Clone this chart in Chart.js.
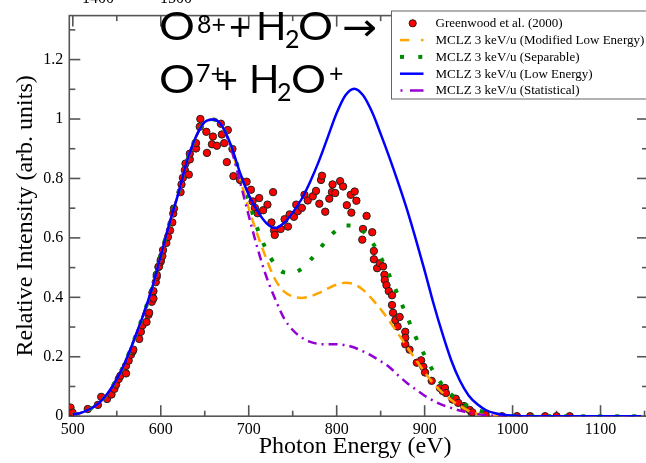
<!DOCTYPE html>
<html><head><meta charset="utf-8">
<script src="https://cdn.jsdelivr.net/npm/chart.js@4"></script>
<style>html,body{margin:0;padding:0;background:#fff}#wrap{width:646px;height:463px;position:relative}</style>
</head><body><div id="wrap"><canvas id="c"></canvas></div>
<script>
// ---- data ----
const curveEnergy = [500,510,520,530,540,550,560,570,580,590,600,610,620,630,640,650,660,670,680,690,700,710,720,730,740,750,760,770,780,790,800,810,820,830,840,850,860,870,880,890,900,910,920,930,940,950,960,970,980,990,1000,1010,1020,1030,1040,1050,1060,1070,1080,1090,1100,1110,1120,1130,1140,1150,1160];
const lowEnergy = [0.005,0.012,0.025,0.045,0.078,0.125,0.185,0.26,0.34,0.43,
 0.54,0.65,0.75,0.86,0.94,0.99,0.998,0.975,0.91,0.82,
 0.745,0.69,0.65,0.633,0.65,0.685,0.73,0.79,0.86,0.94,
 1.02,1.08,1.102,1.08,1.025,0.95,0.87,0.785,0.695,0.595,
 0.49,0.38,0.28,0.19,0.12,0.07,0.04,0.02,0.01,0.005,
 0.002,0,0,0,0,0,0,0,0,0,0,0,0,0,0,0,0];
const modifiedLowEnergy = [0.005,0.012,0.025,0.045,0.078,0.125,0.185,0.26,0.34,0.43,
 0.54,0.65,0.75,0.86,0.94,0.99,0.998,0.975,0.905,0.80,
 0.70,0.61,0.53,0.46,0.42,0.403,0.398,0.403,0.415,0.43,
 0.443,0.449,0.444,0.425,0.395,0.36,0.32,0.277,0.233,0.19,
 0.148,0.11,0.08,0.055,0.035,0.018,0.008,0.003,0.001,0,
 0,0,0,0,0,0,0,0,0,0,0,0,0,0,0,0,0];
const separable = [0.005,0.012,0.025,0.045,0.078,0.125,0.185,0.26,0.34,0.43,
 0.54,0.65,0.75,0.86,0.94,0.99,0.998,0.975,0.91,0.815,
 0.725,0.63,0.56,0.51,0.484,0.482,0.496,0.525,0.56,0.598,
 0.626,0.642,0.641,0.622,0.587,0.535,0.473,0.405,0.335,0.265,
 0.205,0.15,0.106,0.074,0.05,0.033,0.02,0.012,0.006,0.003,
 0,0,0,0,0,0,0,0,0,0,0,0,0,0,0,0,0];
const statistical = [0.005,0.012,0.025,0.045,0.078,0.125,0.185,0.26,0.34,0.43,
 0.54,0.65,0.75,0.86,0.94,0.99,0.998,0.975,0.90,0.79,
 0.675,0.565,0.47,0.395,0.33,0.29,0.265,0.25,0.243,0.242,
 0.242,0.239,0.231,0.218,0.203,0.185,0.165,0.137,0.112,0.09,
 0.069,0.052,0.038,0.028,0.019,0.012,0.007,0.003,0.001,0,
 0,0,0,0,0,0,0,0,0,0,0,0,0,0,0,0,0];
const greenwoodEnergy = [497.4,499.7,517,528.5,532.3,538.9,544,547.3,549.2,552.2,554.1,560.5,560.5,563.5,566.1,568,568.8,575.5,577.4,579.3,583.8,586,586.8,589.8,590.5,590.6,591.7,591.7,594.3,595.4,595.4,597.3,598.1,599.9,600,601.8,602.6,606.3,608.2,610.5,613.1,614.2,615,622.5,623.6,625.1,627.4,628.1,631.9,633,633,640.1,640.1,644.3,645,651.8,652.5,658.2,659.3,663.8,668.3,669.4,672.1,675.1,676.2,681.5,682.6,690.1,697.6,702.5,704.4,707,710,711.9,716.4,721.3,725.8,727.7,728.8,729.6,736.3,740.8,744.6,746.5,751.4,754,755.9,760.4,763.4,767.1,772.8,776.5,780.3,782.2,783.3,787,791.6,794.6,795.3,798.3,803.9,807.3,811.5,816,816.7,820.5,822.4,829.1,829.9,834,840.4,842.3,842.3,846,849,852.8,854.3,854.7,856.6,859.2,862.9,862.9,864.1,866.7,869.3,871.6,878,878,878,882.9,891.1,896,898.6,900.5,908,917.4,920.5,923.1,924.2,931.7,935.4,938.1,944.8,945.6,951.2,954.2,969.3,988,1005,1020,1037,1050,1065];
const greenwoodIntensity = [0.029,0.012,0.024,0.038,0.065,0.058,0.073,0.092,0.106,0.125,0.136,0.144,0.169,0.187,0.207,0.218,0.224,0.26,0.284,0.306,0.317,0.341,0.348,0.385,0.416,0.400,0.396,0.421,0.451,0.469,0.476,0.502,0.504,0.52,0.526,0.539,0.559,0.583,0.603,0.625,0.652,0.682,0.699,0.754,0.78,0.802,0.828,0.85,0.813,0.864,0.883,0.901,0.919,0.974,1.0,0.957,0.886,0.915,0.941,0.91,0.984,0.948,0.919,0.855,0.963,0.899,0.808,0.795,0.789,0.762,0.723,0.701,0.683,0.734,0.693,0.712,0.652,0.754,0.625,0.61,0.63,0.663,0.638,0.679,0.671,0.712,0.69,0.701,0.745,0.726,0.74,0.758,0.715,0.795,0.809,0.688,0.732,0.754,0.78,0.751,0.791,0.773,0.71,0.745,0.685,0.756,0.725,0.594,0.63,0.674,0.619,0.556,0.528,0.498,0.515,0.504,0.476,0.458,0.441,0.421,0.407,0.374,0.348,0.323,0.302,0.334,0.284,0.264,0.242,0.224,0.18,0.188,0.166,0.147,0.119,0.095,0.085,0.095,0.078,0.056,0.059,0.045,0.034,0.029,0.021,0.013,0.006,0,0,0,0,0,0];
const xMajorTicks = [500,600,700,800,900,1000,1100];
const xMinorTicks = [550,650,750,850,950,1050,1150];
const yMajorTicks = [0,0.2,0.4,0.6,0.8,1,1.2];
const yMinorTicks = [0.1,0.3,0.5,0.7,0.9,1.1,1.3];
const xFrameMax = 1154; // right frame of the plot lies just outside the picture
const seriesNames = ['Greenwood et al. (2000)','MCLZ 3 keV/u (Modified Low Energy)','MCLZ 3 keV/u (Separable)','MCLZ 3 keV/u (Low Energy)','MCLZ 3 keV/u (Statistical)'];

const toXY = (xs, ys) => xs.map((x, i) => ({x, y: ys[i]}));
const SERIF = '"Liberation Serif","Times New Roman",serif';

const framePlugin = {
  id: 'frame',
  beforeDatasetsDraw(chart) {
    const {ctx, chartArea: a, scales: {x, y}} = chart;
    const R = x.getPixelForValue(xFrameMax);
    ctx.save();
    ctx.strokeStyle = '#555';
    ctx.lineWidth = 1.6;
    ctx.strokeRect(a.left, a.top, R - a.left, a.bottom - a.top);
    const seg = (x1, y1, x2, y2) => { ctx.beginPath(); ctx.moveTo(x1, y1); ctx.lineTo(x2, y2); ctx.stroke(); };
    xMajorTicks.forEach(v => { const p = x.getPixelForValue(v); seg(p, a.bottom, p, a.bottom - 11); seg(p, a.top, p, a.top + 11); });
    xMinorTicks.forEach(v => { const p = x.getPixelForValue(v); seg(p, a.bottom, p, a.bottom - 5.5); seg(p, a.top, p, a.top + 5.5); });
    yMajorTicks.forEach(v => { const p = y.getPixelForValue(v); seg(a.left, p, a.left + 11, p); seg(R, p, R - 11, p); });
    yMinorTicks.forEach(v => { const p = y.getPixelForValue(v); seg(a.left, p, a.left + 6, p); seg(R, p, R - 6, p); });
    ctx.restore();
  }
};

const overlayPlugin = {
  id: 'overlay',
  afterDraw(chart) {
    const ctx = chart.ctx;
    ctx.save();
    // partially visible labels of the panel above
    ctx.fillStyle = '#000';
    ctx.font = '16px ' + SERIF;
    ctx.textAlign = 'center';
    ctx.textBaseline = 'alphabetic';
    ctx.fillText('1400', 98, 3);
    ctx.fillText('1500', 176, 3);
    // reaction text
    ctx.textAlign = 'left';
    const FAM = 'Lato, "Open Sans", "DejaVu Sans", sans-serif';
    const big = '38px ' + FAM;
    const small = '25px ' + FAM;
    const put = (t, x, y, f, sx) => { ctx.save(); ctx.font = f; ctx.translate(x, y); ctx.scale(sx || 1, 1); ctx.fillText(t, 0, 0); ctx.restore(); };
    put('O', 159, 40, big, 1.18); put('8+', 197, 33, small); put('+', 229, 40, big);
    put('H', 256, 40, big, 1.05); put('2', 285, 48, small); put('O', 298, 40, big, 1.15);
    put('\u2192', 342, 40, '38px "DejaVu Sans", sans-serif', 1.1);
    put('O', 159, 93, big, 1.18); put('7+', 196, 82, small); put('+', 216, 93, big);
    put('H', 249, 93, big, 1.05); put('2', 277, 101, small); put('O', 291, 93, big, 1.15);
    put('+', 329, 82, small);
    // legend
    const L = 391.5, T = 11, B = 99;
    ctx.fillStyle = '#fff';
    ctx.fillRect(L, T, 660 - L, B - T);
    ctx.strokeStyle = '#666'; ctx.lineWidth = 1;
    ctx.strokeRect(L, T, 660 - L, B - T);
    const rows = [23.3, 40.1, 56.9, 73.7, 90.5];
    ctx.font = '13px ' + SERIF;
    ctx.fillStyle = '#000';
    ctx.textBaseline = 'middle';
    seriesNames.forEach((n, i) => ctx.fillText(n, 435.5, rows[i] + 0.5));
    ctx.beginPath(); ctx.arc(412.7, rows[0], 3.6, 0, Math.PI * 2);
    ctx.fillStyle = '#ff0000'; ctx.fill(); ctx.strokeStyle = '#222'; ctx.lineWidth = 1; ctx.stroke();
    const seg = (x1, x2, yv, col, w) => { ctx.beginPath(); ctx.moveTo(x1, yv); ctx.lineTo(x2, yv); ctx.strokeStyle = col; ctx.lineWidth = w; ctx.stroke(); };
    seg(400, 409.3, rows[1], '#ffa500', 2.5); seg(421, 423.5, rows[1], '#ffa500', 2.5);
    seg(400, 404, rows[2], '#008c00', 4); seg(418.3, 422.3, rows[2], '#008c00', 4);
    seg(400, 423.5, rows[3], '#0000ff', 2.5);
    seg(400.5, 402.5, rows[4], '#9400d3', 2.5); seg(410, 423.5, rows[4], '#9400d3', 2.5);
    ctx.restore();
  }
};

const lineDs = (label, ys, color, width, dash, order) => ({
  label, data: toXY(curveEnergy, ys), showLine: true, borderColor: color, backgroundColor: color,
  borderWidth: width, borderDash: dash, pointRadius: 0, cubicInterpolationMode: 'monotone', order, borderCapStyle: 'butt'
});

new Chart(document.getElementById('c'), {
  type: 'scatter',
  data: {
    datasets: [
      lineDs(seriesNames[3], lowEnergy, '#0000ff', 2.5, [], 1),
      lineDs(seriesNames[4], statistical, '#9400d3', 2.5, [9, 5, 2, 5], 2),
      lineDs(seriesNames[1], modifiedLowEnergy, '#ffa500', 2.5, [10, 6], 3),
      lineDs(seriesNames[2], separable, '#008c00', 4, [4, 13], 4),
      { label: seriesNames[0], data: toXY(greenwoodEnergy, greenwoodIntensity), pointRadius: 3.7,
        pointBackgroundColor: '#ff0000', pointBorderColor: '#222', pointBorderWidth: 1, showLine: false, order: 10 }
    ]
  },
  options: {
    responsive: true, maintainAspectRatio: false, animation: false, devicePixelRatio: 1,
    layout: { padding: { left: 0, top: 7.3, right: 0, bottom: 0 } },
    plugins: { legend: { display: false }, tooltip: { enabled: false } },
    scales: {
      x: {
        type: 'linear', min: 496, max: 1146,
        grid: { display: false, drawTicks: false }, border: { display: false },
        afterBuildTicks: s => { s.ticks = xMajorTicks.map(v => ({ value: v })); },
        afterFit: s => { s.height = 46.8; },
        ticks: { font: { family: SERIF, size: 16 }, color: '#000', padding: 4, maxRotation: 0, autoSkip: false,
          callback: v => String(v) },
        title: { display: true, text: 'Photon Energy (eV)', color: '#000', font: { family: SERIF, size: 24 }, padding: { top: 0, bottom: 2 } }
      },
      y: {
        type: 'linear', min: 0, max: 1.348,
        grid: { display: false, drawTicks: false }, border: { display: false },
        afterBuildTicks: s => { s.ticks = yMajorTicks.map(v => ({ value: v })); },
        afterFit: s => { s.width = 69.3; },
        ticks: { font: { family: SERIF, size: 16 }, color: '#000', padding: 6, autoSkip: false,
          callback: v => String(Math.round(v * 10) / 10) },
        title: { display: true, text: 'Relative Intensity (arb. units)', color: '#000', font: { family: SERIF, size: 24 }, padding: { top: 11, bottom: 0 } }
      }
    }
  },
  plugins: [framePlugin, overlayPlugin]
});
</script></body></html>
